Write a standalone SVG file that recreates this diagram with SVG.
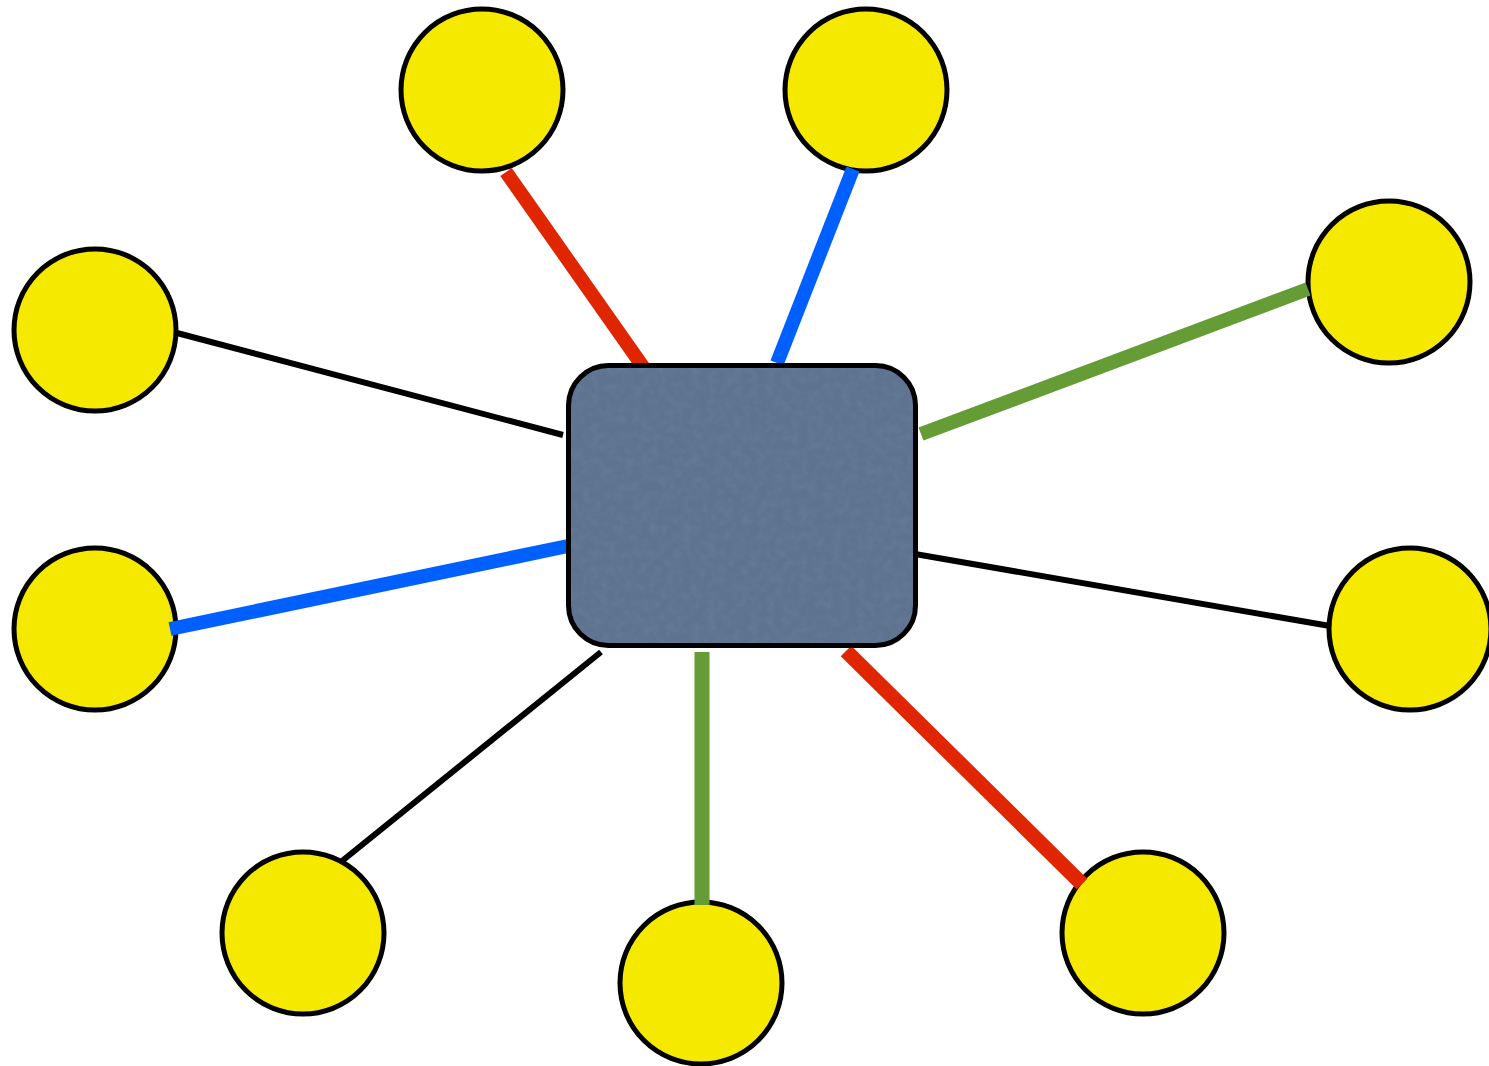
<svg xmlns="http://www.w3.org/2000/svg" width="1489" height="1066" viewBox="0 0 1489 1066">
<style>
.node{fill:#f5e900;stroke:#000;stroke-width:5}
.thin{stroke:#000;stroke-width:6;fill:none}
.thick{stroke-width:14;fill:none}
.red{stroke:#e02600}.blue{stroke:#0060ff}.green{stroke:#659c35}
</style>
<defs>
<filter id="tex" x="0" y="0" width="100%" height="100%" color-interpolation-filters="sRGB">
<feTurbulence type="fractalNoise" baseFrequency="0.12" numOctaves="3" seed="4" result="n"/>
<feColorMatrix in="n" type="matrix" values="0 0 0 0 0.45  0 0 0 0 0.53  0 0 0 0 0.64  0 0 0 0.6 -0.2" result="c"/>
<feComposite in="c" in2="SourceGraphic" operator="in" result="m"/>
<feMerge><feMergeNode in="SourceGraphic"/><feMergeNode in="m"/></feMerge>
</filter>
</defs>
<rect width="1489" height="1066" fill="#fff"/>
<g id="n1"><circle class="node" cx="482" cy="90" r="81"/></g>
<g id="n2"><circle class="node" cx="866" cy="90" r="81"/></g>
<g id="n3"><circle class="node" cx="1389" cy="282" r="81"/></g>
<g id="n4"><circle class="node" cx="95" cy="330" r="81"/></g>
<g id="n5"><circle class="node" cx="95" cy="629" r="81"/></g>
<g id="n6"><circle class="node" cx="1410" cy="629" r="81"/></g>
<g id="n7"><circle class="node" cx="303" cy="933" r="81"/></g>
<g id="n8"><circle class="node" cx="701" cy="983" r="81"/></g>
<g id="n9"><circle class="node" cx="1143" cy="933" r="81"/></g>
<g id="connectors">
<line class="thick red" x1="506" y1="172" x2="646" y2="371"/>
<line class="thick blue" x1="853" y1="169" x2="777" y2="363"/>
<line class="thick green" x1="921" y1="434" x2="1308" y2="289"/>
<line class="thin" x1="177" y1="333" x2="563" y2="435"/>
<line class="thick blue" x1="170" y1="629" x2="568" y2="546"/>
<line class="thin" x1="915" y1="554" x2="1330" y2="626"/>
<line class="thin" x1="601" y1="652" x2="342" y2="861"/>
<line class="thick green" x1="702" y1="652" x2="702" y2="905" style="stroke-width:15"/>
<line class="thick red" x1="846" y1="651" x2="1082" y2="884" style="stroke-width:15"/>
</g>
<g id="hub">
<rect x="568.5" y="365.5" width="347" height="280" rx="40" fill="#5d7390" filter="url(#tex)"/>
<rect x="568.5" y="365.5" width="347" height="280" rx="40" fill="none" stroke="#000" stroke-width="5"/>
</g>
</svg>
